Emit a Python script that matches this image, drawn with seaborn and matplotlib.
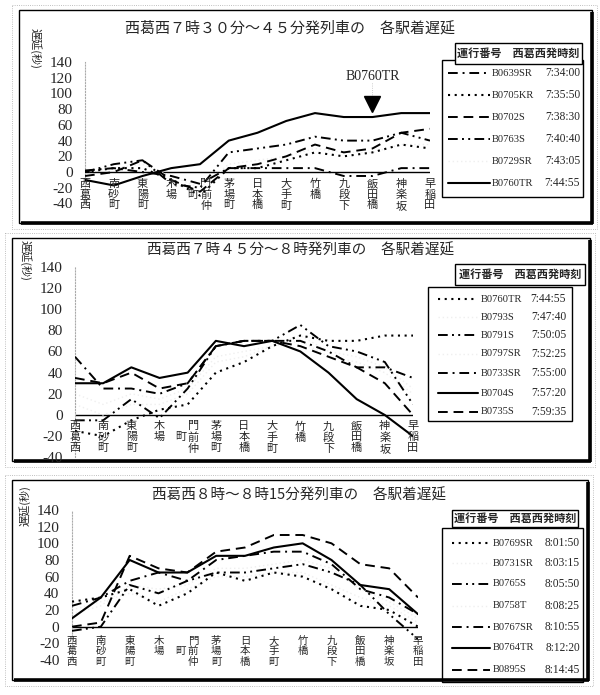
import matplotlib
matplotlib.use("Agg")
import matplotlib.pyplot as plt
import seaborn as sns
from matplotlib.patches import Rectangle

# stations along the line (西葛西 -> 早稲田)
stations = ["西葛西", "南砂町", "東陽町", "木場", "門前仲町", "茅場町", "日本橋",
            "大手町", "竹橋", "九段下", "飯田橋", "神楽坂", "早稲田"]
yticks = [-40, -20, 0, 20, 40, 60, 80, 100, 120, 140]

# panel 1: 西葛西 7:30-7:45 departures
p1_title = "西葛西７時３０分～４５分発列車の　各駅着遅延"
p1_trains = ["B0639SR", "B0705KR", "B0702S", "B0763S", "B0729SR", "B0760TR"]
p1_times = ["7:34:00", "7:35:50", "7:38:30", "7:40:40", "7:43:05", "7:44:55"]
p1_styles = ["dashdot", "dot", "dash", "dashdotdot", "faint", "solid"]
p1_b0639sr = [2, 5, 0, -5, -15, 5, 5, 5, 5, -5, -5, 5, 5]
p1_b0705kr = [0, 5, 5, -10, -30, 5, 5, 15, 25, 20, 25, 35, 30]
p1_b0702s = [-5, 0, 15, -10, -25, 5, 10, 20, 35, 25, 30, 50, 55]
p1_b0763s = [0, 10, 15, -15, -20, 25, 30, 35, 45, 40, 40, 50, 40]
p1_b0729sr = [0, 5, 10, -5, -20, 10, 15, 20, 30, 25, 25, 35, 35]
p1_b0760tr = [-10, -17, -5, 5, 10, 40, 50, 65, 75, 70, 70, 75, 75]

# panel 2: 西葛西 7:45-8:00 departures
p2_title = "西葛西７時４５分～８時発列車の　各駅着遅延"
p2_trains = ["B0760TR", "B0793S", "B0791S", "B0797SR", "B0733SR", "B0704S", "B0735S"]
p2_times = ["7:44:55", "7:47:40", "7:50:05", "7:52:25", "7:55:00", "7:57:20", "7:59:35"]
p2_styles = ["dot", "faint", "dashdotdot", "faint", "dashdot", "solid", "dash"]
p2_b0760tr = [-15, -20, -5, 5, 10, 40, 50, 65, 75, 70, 70, 75, 75]
p2_b0793s = [20, 10, 20, 15, 25, 55, 60, 65, 75, 60, 55, 45, 25]
p2_b0791s = [-5, -5, 15, -3, 25, 65, 70, 70, 85, 65, 60, 50, 10]
p2_b0797sr = [10, 0, 10, 10, 20, 50, 55, 65, 70, 55, 50, 40, 20]
p2_b0733sr = [55, 25, 25, 20, 30, 65, 70, 70, 70, 60, 45, 45, 35]
p2_b0704s = [30, 30, 45, 35, 40, 70, 65, 70, 60, 40, 15, 0, -20]
p2_b0735s = [35, 30, 40, 25, 30, 65, 70, 70, 65, 55, 45, 30, 0]

# panel 3: 西葛西 8:00-8:15 departures
p3_title = "西葛西８時～８時15分発列車の　各駅着遅延"
p3_trains = ["B0769SR", "B0731SR", "B0765S", "B0758T", "B0767SR", "B0764TR", "B0895S"]
p3_times = ["8:01:50", "8:03:15", "8:05:50", "8:08:25", "8:10:55", "8:12:20", "8:14:45"]
p3_styles = ["dot", "faint", "dashdotdot", "faint", "dashdot", "solid", "dash"]
p3_b0769sr = [30, 35, 45, 25, 40, 65, 55, 65, 60, 45, 25, 20, 0]
p3_b0731sr = [20, 30, 40, 30, 45, 60, 60, 65, 65, 50, 35, 25, 5]
p3_b0765s = [-5, 0, 50, 40, 55, 65, 65, 70, 75, 65, 50, 15, -15]
p3_b0758t = [15, 25, 50, 45, 50, 70, 70, 75, 80, 70, 45, 30, 10]
p3_b0767sr = [25, 35, 55, 65, 55, 80, 85, 90, 90, 75, 45, 35, 15]
p3_b0764tr = [10, 35, 80, 65, 65, 85, 85, 95, 100, 80, 50, 45, 15]
p3_b0895s = [0, 5, 85, 70, 65, 90, 95, 110, 110, 100, 75, 70, 35]

p1_values = [p1_b0639sr, p1_b0705kr, p1_b0702s, p1_b0763s, p1_b0729sr, p1_b0760tr]
p2_values = [p2_b0760tr, p2_b0793s, p2_b0791s, p2_b0797sr, p2_b0733sr, p2_b0704s, p2_b0735s]
p3_values = [p3_b0769sr, p3_b0731sr, p3_b0765s, p3_b0758t, p3_b0767sr, p3_b0764tr, p3_b0895s]

LINE = {
    "solid": dict(color="black", lw=1.5, ls="-"),
    "dash": dict(color="black", lw=1.4, ls=(0, (5, 3))),
    "dot": dict(color="black", lw=1.5, ls=(0, (1, 2.2))),
    "dashdot": dict(color="black", lw=1.4, ls=(0, (5, 2.5, 1, 2.5))),
    "dashdotdot": dict(color="black", lw=1.4, ls=(0, (5, 2.2, 1, 2.2, 1, 2.2))),
    "faint": dict(color="#efefef", lw=1.0, ls=(0, (1, 2))),
}

sns.set_style("white")
plt.rcParams["font.family"] = ["Liberation Serif", "Noto Sans CJK JP", "DejaVu Sans"]
CJK = ["Noto Sans CJK JP", "DejaVu Sans"]

fig = plt.figure(figsize=(6.0, 6.95), dpi=100)
# overlay in pixel coordinates for frames, titles and legend boxes
ov = fig.add_axes([0, 0, 1, 1])
ov.set_xlim(0, 600)
ov.set_ylim(695, 0)
ov.axis("off")


def px_rect(left, top, right, bottom):
    """Axes rect (figure fraction) from pixel box."""
    return [left / 600, 1 - bottom / 695, (right - left) / 600, (bottom - top) / 695]


def frame(x0, y0, x1, y1):
    ov.add_patch(Rectangle((x0 - 7, y0 - 5), x1 - x0 + 12, y1 - y0 + 11,
                           fill=False, lw=0.6, ec="#aaaaaa", ls=":"))
    ov.add_patch(Rectangle((x0, y0), x1 - x0, y1 - y0, fill=False, lw=1.0, ec="black"))
    ov.plot([x1, x1], [y0 + 2, y1 + 1], color="black", lw=2.6, solid_capstyle="butt")
    ov.plot([x0 + 2, x1 + 1], [y1, y1], color="black", lw=2.6, solid_capstyle="butt")


def draw_lines(ax, values, styles, label_top, fs, lsp):
    for vals, st in zip(values, styles):
        sns.lineplot(x=list(range(len(stations))), y=vals, ax=ax, legend=False,
                     zorder=3 if st != "faint" else 2, **LINE[st])
    ax.axhline(0, color="black", lw=1.0, zorder=1)
    ax.set_xlim(0, len(stations) - 1)
    ax.set_ylim(-40, 140)
    ax.set_yticks(yticks)
    ax.set_yticklabels([str(t) for t in yticks], fontsize=11, family="Liberation Serif")
    ax.set_xticks([])
    ax.tick_params(axis="y", direction="in", length=4, width=0.8, color="#999999", pad=9)
    for s in ["top", "right", "bottom"]:
        ax.spines[s].set_visible(False)
    ax.spines["left"].set_color("#aaaaaa")
    ax.spines["left"].set_linestyle(":")
    ax.spines["left"].set_linewidth(0.8)
    ax.patch.set_alpha(0)
    for i, name in enumerate(stations):
        if name == "門前仲町":
            ax.text(i + 0.2, label_top, "門\n前\n仲", ha="center", va="top",
                    fontsize=fs, linespacing=lsp, family=CJK, clip_on=False)
            ax.text(i - 0.25, label_top, " \n町", ha="center", va="top",
                    fontsize=fs, linespacing=lsp, family=CJK, clip_on=False)
        else:
            ax.text(i, label_top, "\n".join(name), ha="center", va="top",
                    fontsize=fs, linespacing=lsp, family=CJK, clip_on=False)


def draw_legend(trains, times, styles, box, head, rows, lx0, lx1, idx, tx):
    ov.add_patch(Rectangle((box[0], box[1]), box[2] - box[0], box[3] - box[1],
                           fill=False, lw=1.0, ec="black"))
    ov.add_patch(Rectangle((head[0], head[1]), head[2] - head[0], head[3] - head[1],
                           fc="white", lw=1.0, ec="black", zorder=4))
    ov.text((head[0] + head[2]) / 2, (head[1] + head[3]) / 2, "運行番号　西葛西発時刻",
            ha="center", va="center", fontsize=8, family=CJK, weight="bold", zorder=5)
    for y, name, tm, st in zip(rows, trains, times, styles):
        ov.plot([lx0, lx1], [y, y], **LINE[st])
        ov.text(idx, y, name, ha="left", va="center", fontsize=7.6)
        ov.text(tx, y, tm, ha="right", va="center", fontsize=8.3)


# ---- panel 1 ----
frame(19, 10, 592, 223)
ax1 = fig.add_axes(px_rect(85, 62, 430, 203.5))
draw_lines(ax1, p1_values, p1_styles, -9, 8, 1.05)
ov.text(125, 28, p1_title, ha="left", va="center", fontsize=10.8, family=CJK)
ov.text(35, 48, "遅延(秒)", ha="center", va="center", rotation=270, fontsize=8, family=CJK)
draw_legend(p1_trains, p1_times, p1_styles, (442, 60, 583, 197), (455, 43, 582, 64),
            [73, 95, 117, 139, 161, 183], 448, 490, 492, 580)
# marker above the B0760TR arrival at 飯田橋
k = stations.index("飯田橋")
ax1.plot(k, p1_b0760tr[k] + 16, marker="v", ms=11, color="black", zorder=5)
ax1.plot([k, k], [p1_b0760tr[k] + 26, p1_b0760tr[k] + 44], color="#bbbbbb", lw=0.6, ls=":")
ax1.text(k, p1_b0760tr[k] + 52, "B0760TR", ha="center", va="center", fontsize=10)

# ---- panel 2 ----
frame(12, 238, 590, 461)
ax2 = fig.add_axes(px_rect(75, 266.7, 413, 457.4))
draw_lines(ax2, p2_values, p2_styles, -6, 8, 1.1)
ov.text(147, 250, p2_title, ha="left", va="center", fontsize=10.5, family=CJK)
ov.text(25, 260, "遅延(秒)", ha="center", va="center", rotation=270, fontsize=8, family=CJK)
draw_legend(p2_trains, p2_times, p2_styles, (428, 287, 572, 421), (455, 264, 585, 285),
            [299, 317, 335, 354, 373, 393, 412], 438, 478, 481, 566)

# ---- panel 3 ----
frame(12, 480, 588, 680)
ax3 = fig.add_axes(px_rect(72, 510, 418, 660))
draw_lines(ax3, p3_values, p3_styles, -11, 7.5, 1.05)
ov.text(152, 495, p3_title, ha="left", va="center", fontsize=10.5, family=CJK)
ov.text(25, 506, "遅延(秒)", ha="center", va="center", rotation=90, fontsize=8, family=CJK)
draw_legend(p3_trains, p3_times, p3_styles, (442, 528, 583, 682), (452, 510, 578, 527),
            [543, 563, 584, 606, 627, 648, 670], 452, 490, 493, 580)

fig.savefig("out.png", dpi=100)
